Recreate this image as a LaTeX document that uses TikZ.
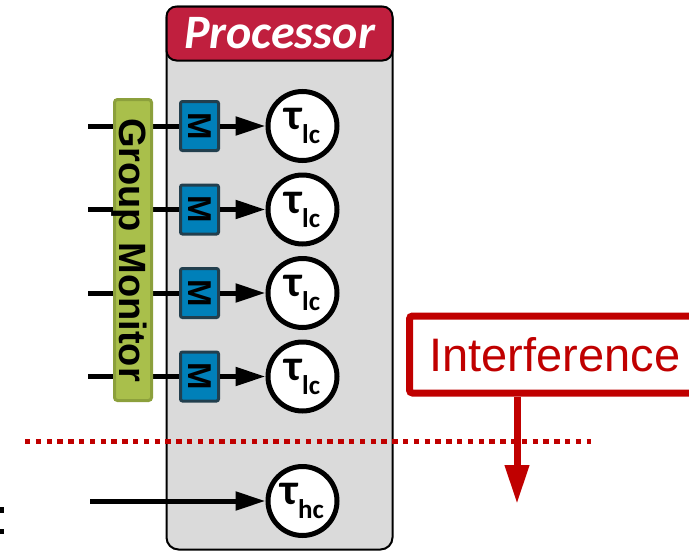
\documentclass[tikz,border=0pt]{standalone}
\usepackage{fontspec}
\setmainfont{Liberation Sans}
\newfontfamily\carlito{Carlito}
\usetikzlibrary{arrows.meta}
\definecolor{hdrred}{HTML}{C01F3E}
\definecolor{bodygray}{HTML}{DADADA}
\definecolor{gmfill}{HTML}{A9BF4B}
\definecolor{gmborder}{HTML}{8CA03C}
\definecolor{mblue}{HTML}{0080B9}
\definecolor{mborder}{HTML}{223F4E}
\definecolor{intred}{HTML}{C00000}
\newcommand\tsk[1]{{\carlito\bfseries\fontsize{44}{44}\selectfont τ}\raisebox{-14pt}{\carlito\bfseries\fontsize{27}{27}\selectfont #1}}
\begin{document}
\begin{tikzpicture}[x=1pt,y=-1pt,
  link/.style={line width=5pt, draw=black},
  arr/.style={link, -{Triangle[length=30pt,width=18pt]}},
  taskc/.style={circle, draw=black, line width=5pt, fill=white, minimum size=69pt, inner sep=0pt},
  mbox/.style={rectangle, rounded corners=2pt, draw=mborder, fill=mblue, line width=3pt, rotate=-90,
    minimum width=49pt, minimum height=38pt, inner sep=0pt, font=\bfseries\fontsize{33}{33}\selectfont},
  body/.style={rectangle, rounded corners=12pt, draw=black, fill=bodygray, line width=2pt,
    minimum width=226pt, minimum height=543pt, inner sep=0pt},
  hdr/.style={rectangle, rounded corners=10pt, draw=black, fill=hdrred, line width=2pt,
    minimum width=226pt, minimum height=54pt, inner sep=0pt, text=white,
    font=\carlito\bfseries\itshape\fontsize{48}{48}\selectfont},
  gmon/.style={rectangle, rounded corners=3pt, draw=gmborder, fill=gmfill, line width=3pt, rotate=-90,
    minimum width=301pt, minimum height=37pt, inner sep=0pt, text height=28pt, text depth=0pt,
    font=\bfseries\fontsize{38}{38}\selectfont},
  dotline/.style={draw=intred, line width=5pt, dash pattern=on 5.4pt off 5.4pt},
  intf/.style={rectangle, rounded corners=3pt, draw=intred, fill=white, line width=7pt,
    minimum width=290.5pt, minimum height=77pt, inner sep=0pt, text=intred,
    font=\fontsize{47}{47}\selectfont},
  intarrow/.style={draw=intred, line width=7pt, -{Triangle[length=39pt,width=23pt]}}
 ]
\useasboundingbox (0,0) rectangle (689,552);
\clip (0,0) rectangle (689,552);

\node[body] (proc) at (279.5,278) {};
\node[hdr] (hdr) at (279.5,33.5) {Processor};

\coordinate (d1) at (25,441);
\coordinate (d2) at (591,441);
\draw[dotline] (d1) -- (d2);

\foreach \y [count=\i] in {126,209.5,293,376.5} {
  \coordinate (s\i) at (88,\y);
  \node[mbox] (m\i) at (199.5,\y) {M};
  \node[taskc] (t\i) at (302.5,\y) {\tsk{lc}};
  \draw[link] (s\i) -- (m\i);
  \draw[arr] (m\i) -- (t\i);
}

\node[gmon] (gm) at (133,250) {Group Monitor};

\node[taskc] (thc) at (302.5,501) {\tsk{hc}};
\coordinate (shc) at (90,501);
\draw[arr] (shc) -- (thc);

\node[intf] (intf) at (554.75,354.5) {Interference};
\coordinate (itip) at (517,504);
\draw[intarrow] (intf.south -| itip) -- (itip);

\fill[black] (0,507) rectangle (4,513);
\fill[black] (0,529) rectangle (4,534);
\end{tikzpicture}
\end{document}
